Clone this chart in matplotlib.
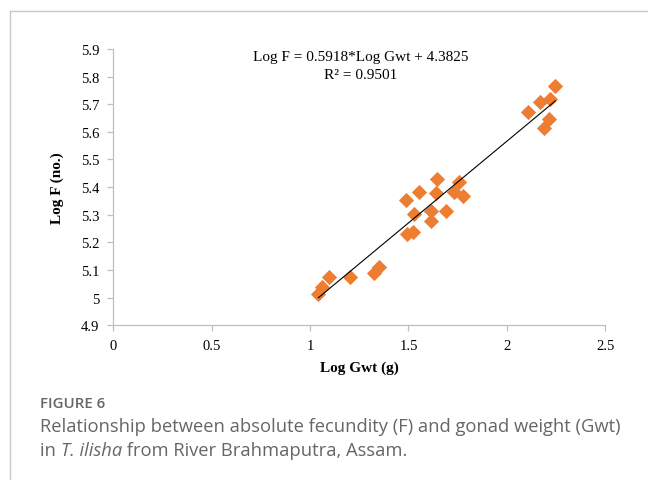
import matplotlib.pyplot as plt
import numpy as np

# Log Gwt (g) and Log F (no.)
log_gwt = [1.042, 1.060, 1.098, 1.204, 1.327, 1.348, 1.492, 1.523, 1.487, 1.551,
           1.526, 1.645, 1.641, 1.614, 1.614, 1.691, 1.755, 1.729, 1.775,
           2.247, 2.106, 2.167, 2.218, 2.213, 2.187]
log_f = [5.012, 5.037, 5.075, 5.073, 5.087, 5.109, 5.230, 5.238, 5.352, 5.381,
         5.302, 5.429, 5.377, 5.314, 5.278, 5.312, 5.417, 5.381, 5.368,
         5.767, 5.671, 5.707, 5.719, 5.646, 5.613]
slope = 0.5918
intercept = 4.3825
r2 = 0.9501

xticks = [0, 0.5, 1, 1.5, 2, 2.5]
xtick_labels = ['0', '0.5', '1', '1.5', '2', '2.5']
yticks = [4.9, 5.0, 5.1, 5.2, 5.3, 5.4, 5.5, 5.6, 5.7, 5.8, 5.9]
ytick_labels = ['4.9', '5', '5.1', '5.2', '5.3', '5.4', '5.5', '5.6', '5.7', '5.8', '5.9']

serif = ['Liberation Serif', 'DejaVu Serif']
sans = ['Open Sans', 'DejaVu Sans']
W, H = 648, 481

fig = plt.figure(figsize=(6.48, 4.81), dpi=100)
ax = fig.add_axes([0.175, 0.322, 0.759, 0.574])

ax.scatter(log_gwt, log_f, marker='D', s=60, color='#ED7D31', linewidths=0, zorder=3)

x = np.array(log_gwt)
xs = np.array([x.min(), x.max()])
ax.plot(xs, slope * xs + intercept, color='black', lw=0.8, zorder=4)

ax.set_xlim(0, 2.5)
ax.set_ylim(4.9, 5.9)
ax.set_xticks(xticks)
ax.set_xticklabels(xtick_labels, family=serif, fontsize=10.5)
ax.set_yticks(yticks)
ax.set_yticklabels(ytick_labels, family=serif, fontsize=10.5)

for side in ['top', 'right']:
    ax.spines[side].set_visible(False)
for side in ['left', 'bottom']:
    ax.spines[side].set_color('#BFBFBF')
    ax.spines[side].set_linewidth(0.9)
ax.tick_params(direction='out', length=4, width=0.9, pad=6, color='#BFBFBF')

ax.set_xlabel('Log Gwt (g)', family=serif, fontsize=11, fontweight='bold', labelpad=6)
ax.set_ylabel('Log F (no.)', family=serif, fontsize=11, fontweight='bold', labelpad=12)

ax.text(0.503, 0.972, 'Log F = %.4f*Log Gwt + %.4f' % (slope, intercept),
        transform=ax.transAxes, ha='center', va='center', family=serif, fontsize=11)
ax.text(0.503, 0.907, 'R² = %.4f' % r2,
        transform=ax.transAxes, ha='center', va='center', family=serif, fontsize=11)

# page frame: top and left border lines
fig.add_artist(plt.Line2D([9.5 / W, 1], [1 - 12 / H, 1 - 12 / H],
                          transform=fig.transFigure, color='#C8C8C8', lw=1))
fig.add_artist(plt.Line2D([9.5 / W, 9.5 / W], [0, 1 - 12 / H],
                          transform=fig.transFigure, color='#C8C8C8', lw=1))

fig.text(40 / W, 1 - 404 / H, 'FIGURE 6', family=sans, fontsize=10.8,
         fontweight='semibold', color='#666666', va='center')
fig.text(40 / W, 1 - 427 / H,
         'Relationship between absolute fecundity (F) and gonad weight (Gwt)',
         family=sans, fontsize=13.2, color='#666666', va='center')
t1 = fig.text(40 / W, 1 - 451 / H, 'in ', family=sans, fontsize=13.2,
              color='#666666', va='center')
t2 = fig.text(0, 0, 'T. ilisha', family=sans, fontsize=13.2, style='italic',
              color='#666666')
t3 = fig.text(0, 0, ' from River Brahmaputra, Assam.', family=sans, fontsize=13.2,
              color='#666666')

fig.canvas.draw()
r = fig.canvas.get_renderer()
bb = t1.get_window_extent(r)
t2.set_position((bb.x1 / fig.bbox.width, bb.y0 / fig.bbox.height))
t2.set_va('bottom')
fig.canvas.draw()
bb2 = t2.get_window_extent(r)
t3.set_position((bb2.x1 / fig.bbox.width, bb.y0 / fig.bbox.height))
t3.set_va('bottom')

fig.savefig('out.png', dpi=100)
